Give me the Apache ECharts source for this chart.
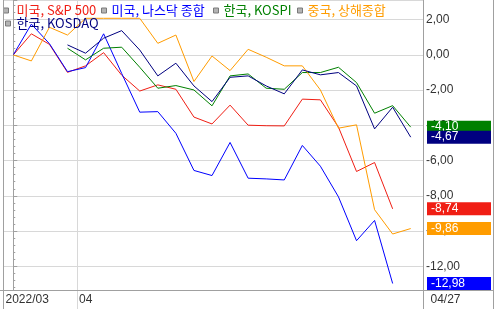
<!DOCTYPE html>
<html><head><meta charset="utf-8">
<script src="https://cdn.jsdelivr.net/npm/echarts@6/dist/echarts.min.js"></script>
<style>html,body{margin:0;padding:0;background:#fff}#c{width:497px;height:309px}</style>
</head><body><div id="c"></div>
<script>
// Trading dates (2022)
const dates = ['03/28','03/29','03/30','03/31','04/01','04/04','04/05','04/06','04/07','04/08','04/11','04/12','04/13','04/14','04/15','04/18','04/19','04/20','04/21','04/22','04/25','04/26','04/27'];
const seriesNames = ['미국, S&P 500','미국, 나스닥 종합','한국, KOSPI','중국, 상해종합','한국, KOSDAQ'];
// % change series
const sp500    = [0,1.2,0.6,-0.99,-0.62,0.13,-1.15,-2.05,-1.70,-1.95,-3.53,-3.92,-2.85,-3.99,-4.02,-4.03,-2.51,-2.55,-4.10,-6.62,-6.11,-8.74,null];
const nasdaq   = [0,1.75,0.64,-0.95,-0.72,1.2,-1.05,-3.25,-3.22,-4.45,-6.56,-6.85,-4.97,-7.00,-7.04,-7.10,-5.14,-6.32,-8.06,-10.55,-9.40,-12.98,null];
const kospi    = [null,null,null,0.38,-0.28,0.38,0.44,-0.70,-1.89,-1.74,-1.99,-2.89,-1.19,-1.08,-1.89,-1.95,-1.00,-1.00,-0.70,-1.57,-3.31,-2.88,-4.10];
const shanghai = [0,-0.34,1.57,1.13,2.08,2.08,2.08,2.08,0.66,1.13,-1.51,-0.06,-0.89,0.32,-0.13,-0.62,-0.62,-1.99,-4.16,-3.97,-8.79,-10.17,-9.86];
const kosdaq   = [null,null,null,0.57,0.10,0.95,1.38,0.28,-1.19,-0.47,-1.76,-2.65,-1.27,-1.19,-1.76,-2.21,-0.85,-1.13,-1.00,-1.76,-4.20,-2.97,-4.67];
// x-axis labels
const xLabelStart = '2022/03';
const xLabelMonth = '04';
const xLabelEnd = '04/27';
const monthBoundary = 3.5; // between 03/31 and 04/01

const colors = ['#f01e14', '#0000ff', '#008000', '#ff9c00', '#000080'];
const allData = [sp500, nasdaq, kospi, shanghai, kosdaq];

const fmt = v => v.toFixed(2).replace('.', ',');
const lastVal = arr => { for (let i = arr.length - 1; i >= 0; i--) if (arr[i] != null) return arr[i]; return null; };

const chart = echarts.init(document.getElementById('c'), null, {renderer: 'canvas'});
const gridLeft = 3, gridRight = 74, gridTop = 0, gridBottom = 19;

const legendPos = [
  {left: 3, top: 4, pad: 3},
  {left: 101, top: 4, pad: 0},
  {left: 213, top: 4, pad: 0},
  {left: 297, top: 4, pad: 0},
  {left: 5, top: 17, pad: 1}
];

const series = allData.map((arr, k) => ({
  name: seriesNames[k],
  type: 'line',
  data: arr.map((v, i) => [i, v]),
  showSymbol: false,
  symbol: 'none',
  connectNulls: false,
  lineStyle: {color: colors[k], width: 1},
  itemStyle: {color: colors[k]},
  animation: false,
  markLine: {
    silent: true,
    animation: false,
    symbol: ['none', 'none'],
    lineStyle: {color: 'rgba(0,0,0,0)', width: 1, opacity: 1, type: 'solid'},
    label: {
      show: true,
      position: 'end',
      distance: 4,
      formatter: p => fmt(p.value),
      color: '#ffffff',
      opacity: 1,
      backgroundColor: colors[k],
      fontFamily: 'Liberation Sans',
      fontSize: 12,
      lineHeight: 13,
      width: 56,
      padding: [0, 4, 0, 4]
    },
    emphasis: {disabled: true},
    data: [{yAxis: lastVal(arr)}]
  }
}));

const legends = seriesNames.map((n, k) => ({
  show: true,
  left: legendPos[k].left,
  top: legendPos[k].top,
  padding: 0,
  itemGap: 5,
  itemWidth: 5,
  itemHeight: 5,
  icon: 'rect',
  selectedMode: false,
  itemStyle: {color: '#b4b4b4', borderColor: '#7a7a7a', borderWidth: 1},
  data: [{name: n, textStyle: {color: colors[k]}}],
  textStyle: {fontFamily: 'Noto Sans CJK KR', fontSize: 13, lineHeight: 8, padding: [0, 0, 0, legendPos[k].pad]}
}));

chart.setOption({
  animation: false,
  backgroundColor: '#ffffff',
  legend: legends,
  grid: {left: gridLeft, right: gridRight, top: gridTop, bottom: gridBottom, containLabel: false},
  xAxis: {
    type: 'value', min: -0.57, max: 22.68,
    axisLine: {show: false}, axisTick: {show: false}, axisLabel: {show: false}, splitLine: {show: false}
  },
  yAxis: {
    type: 'value', position: 'right', min: -13.35, max: 3.12, splitNumber: 8, scale: true,
    axisLine: {show: true, lineStyle: {color: '#a0a0a0', width: 1}},
    axisTick: {show: true, length: 4, lineStyle: {color: '#a0a0a0'}},
    minorTick: {show: true, splitNumber: 5, length: 2, lineStyle: {color: '#a0a0a0'}},
    splitLine: {show: true, lineStyle: {color: '#d8d8d8', width: 1}},
    axisLabel: {
      show: true, margin: 3, color: '#333333', fontFamily: 'Liberation Sans', fontSize: 12,
      showMinLabel: false, showMaxLabel: false,
      formatter: v => fmt(v)
    }
  },
  series: series
});

// frame and date labels positioned from the library's scales
const xMonth = Math.round(chart.convertToPixel({xAxisIndex: 0}, monthBoundary)) + 0.5;
const W = 497, H = 309;
const yBottom = H - gridBottom + 0.5;
const xRightAxis = W - gridRight + 0.5;
const xLeft = gridLeft + 0.5;
const xFar = 493.5;
const frame = '#a0a0a0';
const lblY = (yBottom + H) / 2;
chart.setOption({
  graphic: [
    {type: 'line', silent: true, z: 1, shape: {x1: xMonth, y1: 0, x2: xMonth, y2: H}, style: {stroke: '#d8d8d8', lineWidth: 1}},
    {type: 'line', silent: true, z: 5, shape: {x1: xLeft, y1: 0, x2: xLeft, y2: H}, style: {stroke: frame, lineWidth: 1}},
    {type: 'line', silent: true, z: 5, shape: {x1: 0, y1: yBottom, x2: xFar, y2: yBottom}, style: {stroke: frame, lineWidth: 1}},
    {type: 'line', silent: true, z: 5, shape: {x1: xRightAxis, y1: 0, x2: xRightAxis, y2: H}, style: {stroke: frame, lineWidth: 1}},
    {type: 'line', silent: true, z: 5, shape: {x1: xFar, y1: 0, x2: xFar, y2: H}, style: {stroke: frame, lineWidth: 1}},
    {type: 'text', silent: true, z: 6, x: xLeft + 2, y: lblY, style: {text: xLabelStart, fill: '#333333', font: '12px "Liberation Sans"', textAlign: 'left', textVerticalAlign: 'middle'}},
    {type: 'text', silent: true, z: 6, x: xMonth + 1.5, y: lblY, style: {text: xLabelMonth, fill: '#333333', font: '12px "Liberation Sans"', textAlign: 'left', textVerticalAlign: 'middle'}},
    {type: 'text', silent: true, z: 6, x: xRightAxis + 7, y: lblY, style: {text: xLabelEnd, fill: '#333333', font: '12px "Liberation Sans"', textAlign: 'left', textVerticalAlign: 'middle'}}
  ]
});
</script>
</body></html>
